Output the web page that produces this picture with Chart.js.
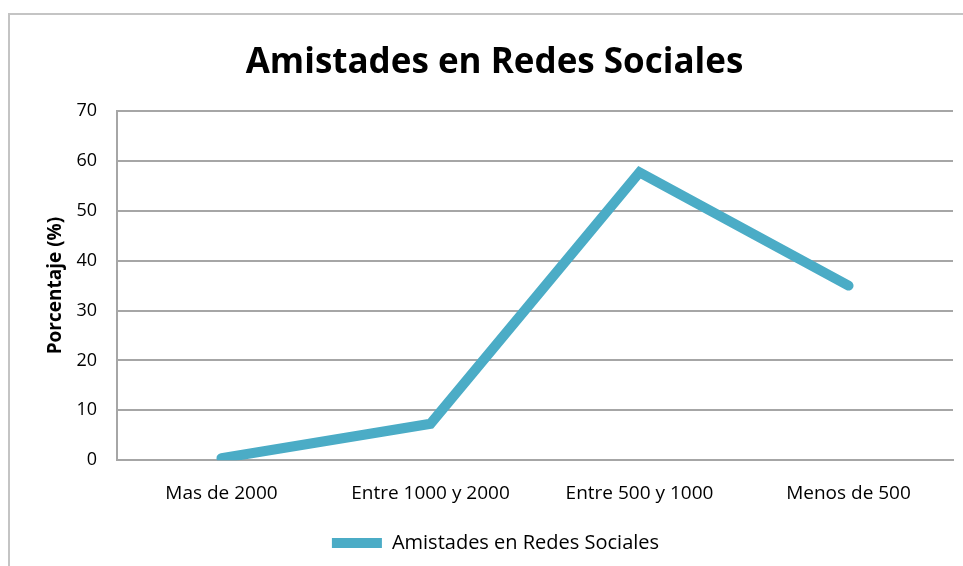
<!DOCTYPE html>
<html lang="es">
<head>
    <meta charset="UTF-8">
    <title>Amistades en Redes Sociales</title>
    <script src="https://cdn.jsdelivr.net/npm/chart.js"></script>
    <style>
        html, body { margin: 0; padding: 0; background: #fff; overflow: hidden; }
        #frame {
            position: absolute; left: 8px; top: 13px; width: 1000px; height: 600px;
            border: 2px solid #c4c4c4; box-sizing: border-box;
        }
        #wrap { position: absolute; left: 0; top: 0; width: 963px; height: 566px; }
    </style>
</head>
<body>
    <div id="frame"></div>
    <div id="wrap"><canvas id="lineChart" width="963" height="566"></canvas></div>

    <script>
        // data
        const categories = ['Mas de 2000', 'Entre 1000 y 2000', 'Entre 500 y 1000', 'Menos de 500'];
        const porcentajes = [0.4, 7.3, 57.7, 35];
        const seriesName = 'Amistades en Redes Sociales';

        const font = '"Open Sans", Lato, sans-serif';
        const ctx = document.getElementById('lineChart').getContext('2d');

        // title and legend in the original sit a bit right of centre
        const shiftBlocks = {
            id: 'shiftBlocks',
            afterLayout(chart) {
                chart.legend.left += 19;
                chart.legend.right += 19;
                chart.titleBlock.left += 18;
                chart.titleBlock.right += 18;
            }
        };

        new Chart(ctx, {
            type: 'line',
            data: {
                labels: categories,
                datasets: [{
                    label: seriesName,
                    data: porcentajes,
                    borderColor: '#4bacc6',
                    backgroundColor: '#4bacc6',
                    borderWidth: 10,
                    borderCapStyle: 'round',
                    borderJoinStyle: 'miter',
                    pointRadius: 0,
                    tension: 0,
                    clip: 0
                }]
            },
            plugins: [shiftBlocks],
            options: {
                responsive: false,
                animation: false,
                layout: { padding: { left: 0, right: 10, top: 42, bottom: 3 } },
                plugins: {
                    title: {
                        display: true,
                        text: 'Amistades en Redes Sociales',
                        color: '#000',
                        font: { family: font, size: 35, weight: 'bold' },
                        padding: { top: 0, bottom: 27 }
                    },
                    legend: {
                        position: 'bottom',
                        labels: {
                            color: '#000',
                            font: { family: font, size: 20 },
                            usePointStyle: true,
                            pointStyle: 'line',
                            pointStyleWidth: 50,
                            boxHeight: 10,
                            padding: 6
                        }
                    },
                    tooltip: { enabled: false }
                },
                scales: {
                    x: {
                        offset: true,
                        grid: { display: false, drawTicks: false },
                        border: { color: '#a6a6a6', width: 2 },
                        ticks: {
                            color: '#000',
                            font: { family: font, size: 19 },
                            padding: 22
                        }
                    },
                    y: {
                        min: 0,
                        max: 70,
                        afterFit: (scale) => { scale.width = 117; },
                        ticks: {
                            stepSize: 10,
                            color: '#000',
                            font: { family: font, size: 18 },
                            padding: 20
                        },
                        grid: { color: '#a6a6a6', lineWidth: 2, drawTicks: false },
                        border: { color: '#a6a6a6', width: 2 },
                        title: {
                            display: true,
                            text: 'Porcentaje (%)',
                            color: '#000',
                            font: { family: font, size: 19, weight: 'bold' },
                            padding: { top: 44, bottom: 0 }
                        }
                    }
                }
            }
        });
    </script>
</body>
</html>
